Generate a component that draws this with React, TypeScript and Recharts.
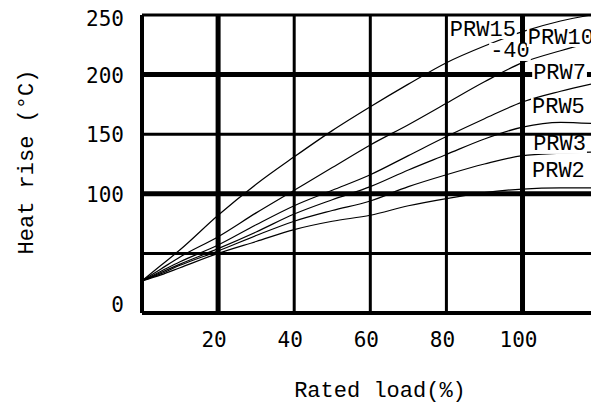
import React from "react";
import { LineChart, Line, XAxis, YAxis, ReferenceLine, ReferenceDot } from "recharts";

const loadX = [0, 5, 10, 20, 30, 40, 50, 60, 70, 80, 90, 100, 110, 118];
const prw15 = [27, 40, 53, 82, 108, 131, 153, 173, 192, 210, 224, 236, 245, 250];
const prw10 = [27, 37, 47, 64, 84, 103, 122, 141, 158, 176, 194, 210, 220, 227];
const prw7 = [27, 35, 43, 57, 74, 90, 103, 116, 132, 148, 163, 177, 186, 192];
const prw5 = [27, 34, 41, 54, 68, 83, 95, 106, 120, 133, 146, 156, 160, 159];
const prw3 = [27, 33, 40, 52, 65, 77, 86, 94, 106, 116, 125, 132, 134, 135];
const prw2 = [27, 32, 38, 50, 60, 70, 77, 82, 90, 96, 101, 104, 105, 105];

const xTicks = [20, 40, 60, 80, 100];
const yTicks = [0, 100, 150, 200, 250];

const seriesKeys = ["prw15", "prw10", "prw7", "prw5", "prw3", "prw2"];

const labelTexts = ["PRW15", "-40", "PRW10", "PRW7", "PRW5", "PRW3", "PRW2"];
const labelX = [80.9, 91.5, 101.4, 102.8, 102.5, 102.8, 102.5];
const labelY = [237.4, 219, 230.7, 201, 172.8, 141, 118.3];

const rows = loadX.map((x, i) => ({
  x,
  prw15: prw15[i],
  prw10: prw10[i],
  prw7: prw7[i],
  prw5: prw5[i],
  prw3: prw3[i],
  prw2: prw2[i],
}));

const hGrid = [
  { v: 0, w: 4 },
  { v: 50, w: 3 },
  { v: 100, w: 5 },
  { v: 150, w: 3 },
  { v: 200, w: 5 },
  { v: 250, w: 3 },
];
const vGrid = [
  { v: 0, w: 4 },
  { v: 20, w: 5 },
  { v: 40, w: 3 },
  { v: 60, w: 3 },
  { v: 80, w: 3 },
  { v: 100, w: 5 },
];

const DIGIT_FONT = "'DejaVu Sans Mono', monospace";
const TEXT_FONT = "'Liberation Mono', 'DejaVu Sans Mono', monospace";

const XTick = (props: any) => {
  const { x, payload } = props;
  return (
    <text
      x={x - 4}
      y={340}
      textAnchor="middle"
      dominantBaseline="central"
      fontFamily={DIGIT_FONT}
      fontSize={21}
      fill="#000"
    >
      {payload.value}
    </text>
  );
};

const YTick = (props: any) => {
  const { y, payload } = props;
  const v = payload.value;
  const off = v === 0 ? -8 : v === 250 ? 4 : 1;
  return (
    <text
      x={124}
      y={y + off}
      textAnchor="end"
      dominantBaseline="central"
      fontFamily={DIGIT_FONT}
      fontSize={21}
      fill="#000"
    >
      {v}
    </text>
  );
};

const makeLabelShape = (txt: string) => (p: any) => {
  const { cx, cy } = p;
  const w = txt.length * 13.2 + 2;
  return (
    <g>
      <rect x={cx - 1} y={cy - 9} width={w} height={18} fill="#fff" />
      <text
        x={cx}
        y={cy}
        dominantBaseline="central"
        fontFamily={TEXT_FONT}
        fontSize={22}
        fill="#000"
      >
        {txt}
      </text>
    </g>
  );
};

export default function App() {
  return (
    <div
      style={{
        position: "absolute",
        left: 0,
        top: 0,
        width: 591,
        height: 409,
        overflow: "hidden",
        background: "#fff",
      }}
    >
      <LineChart
        width={591}
        height={409}
        data={rows}
        margin={{ top: 15, right: 0, bottom: 0, left: 0 }}
      >
        <XAxis
          dataKey="x"
          type="number"
          domain={[0, 118]}
          ticks={xTicks}
          axisLine={false}
          tickLine={false}
          height={96}
          tick={XTick}
          allowDataOverflow
          interval={0}
        />
        <YAxis
          type="number"
          domain={[0, 250]}
          ticks={yTicks}
          width={142}
          axisLine={false}
          tickLine={false}
          tick={YTick}
          interval={0}
        />
        {hGrid.map((g) => (
          <ReferenceLine key={"h" + g.v} y={g.v} stroke="#000" strokeWidth={g.w} ifOverflow="visible" />
        ))}
        {vGrid.map((g) => (
          <ReferenceLine key={"v" + g.v} x={g.v} stroke="#000" strokeWidth={g.w} ifOverflow="visible" />
        ))}
        {seriesKeys.map((k) => (
          <Line
            key={k}
            dataKey={k}
            type="monotone"
            stroke="#000"
            strokeWidth={1.2}
            dot={false}
            isAnimationActive={false}
          />
        ))}
        {labelTexts.map((t, i) => (
          <ReferenceDot
            key={"l" + i}
            x={labelX[i]}
            y={labelY[i]}
            r={1}
            ifOverflow="visible"
            shape={makeLabelShape(t)}
          />
        ))}
      </LineChart>
      <svg
        width={591}
        height={409}
        style={{ position: "absolute", left: 0, top: 0, pointerEvents: "none" }}
      >
        <text
          x={380}
          y={391}
          textAnchor="middle"
          dominantBaseline="central"
          fontFamily={TEXT_FONT}
          fontSize={22}
          fill="#000"
        >
          Rated load(%)
        </text>
        <text
          x={27}
          y={162}
          textAnchor="middle"
          dominantBaseline="central"
          fontFamily={TEXT_FONT}
          fontSize={22}
          fill="#000"
          transform="rotate(-90 27 162)"
        >
          Heat rise (°C)
        </text>
      </svg>
    </div>
  );
}
